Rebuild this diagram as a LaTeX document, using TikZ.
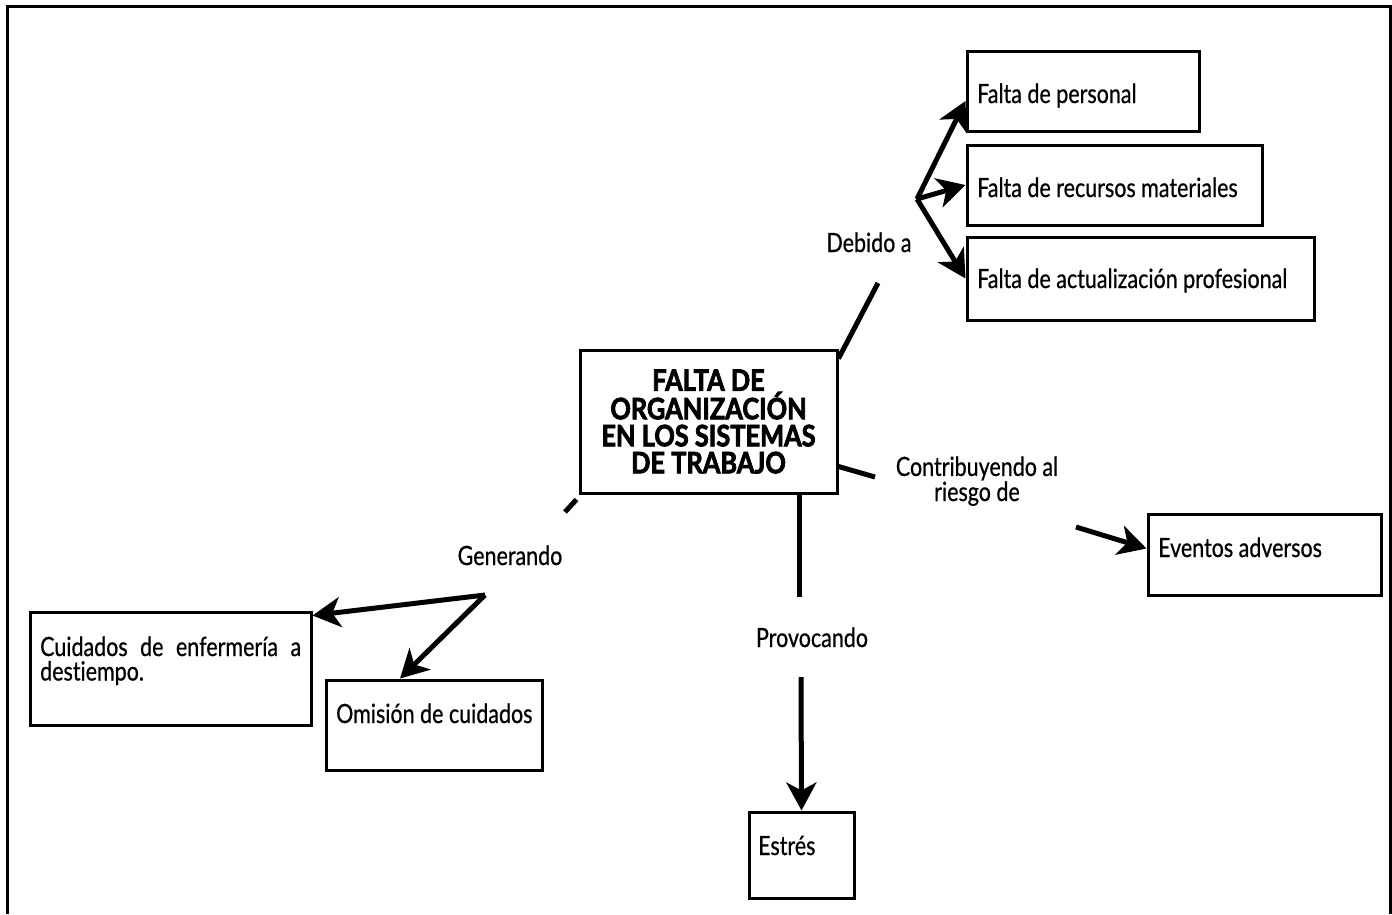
\documentclass[tikz,border=0pt]{standalone}
\usepackage{fontspec}
\setmainfont{Lato}[FakeStretch=0.81, FakeBold=0.6, Ligatures=NoCommon]
\newfontfamily\headfont{Lato}[FakeStretch=0.86, Ligatures=NoCommon,
  BoldFeatures={FakeBold=2.6}]
\usetikzlibrary{arrows.meta}
\begin{document}
\begin{tikzpicture}[x=1pt,y=-1pt,
  frame/.style={line width=3pt},
  box/.style={draw, line width=3pt, inner sep=0pt, rectangle},
  txt/.style={inner sep=0pt, anchor=base west, font=\fontsize{26.5}{23}\selectfont},
  lbl/.style={inner sep=0pt, anchor=base, align=center, font=\fontsize{26.5}{18}\selectfont},
  link/.style={line width=5pt},
  arr/.style={line width=5pt, -{Stealth[length=28pt,width=30pt,inset=8pt]}},
]
\useasboundingbox (0,0) rectangle (1392,914);

% outer frame, open at the bottom
\draw[frame] (7,914) -- (7,6) -- (1390,6) -- (1390,914);

% central concept
\node[box, minimum width=257pt, minimum height=143pt, align=center,
      font=\headfont\bfseries\fontsize{29.5}{27}\selectfont] (main) at (708.5,421.5)
  {FALTA DE\\ORGANIZACIÓN\\EN LOS SISTEMAS\\DE TRABAJO};

% boxes
\node[box, minimum width=232pt, minimum height=80pt]  (per) at (1083,91) {};
\node[box, minimum width=295pt, minimum height=80pt]  (rec) at (1114.5,185) {};
\node[box, minimum width=347pt, minimum height=83pt]  (act) at (1140.5,278.5) {};
\node[box, minimum width=233pt, minimum height=81pt]  (ev)  at (1264.5,554.5) {};
\node[box, minimum width=281pt, minimum height=113pt] (cui) at (170.5,668.5) {};
\node[box, minimum width=216pt, minimum height=90pt]  (omi) at (434,725) {};
\node[box, minimum width=105pt, minimum height=86pt]  (est) at (801.5,855) {};

% box texts
\node[txt] (perT) at (977,103) {Falta de personal};
\node[txt] (recT) at (977,197) {Falta de recursos materiales};
\node[txt] (actT) at (977,288) {Falta de actualización profesional};
\node[txt] (evT)  at (1158,557) {Eventos adversos};
\node[txt] (omiT) at (336,723) {Omisión de cuidados};
\node[txt] (estT) at (758,855) {Estrés};
\node[txt, text width=261pt, align=justify, font=\fontsize{26.5}{24.5}\selectfont]
  (cuiT) at (40,656) {Cuidados de enfermería a destiempo.};

% link labels
\node[lbl] (debido) at (869,252) {Debido a};
\node[lbl] (contrib) at (977,501) {Contribuyendo al\\riesgo de};
\node[lbl] (provoc) at (812,647) {Provocando};
\node[lbl] (gener) at (510,565) {Generando};

% free ends of the links
\coordinate (d1) at (878,283);
\coordinate (dj) at (917,199);
\coordinate (c1) at (875,477);
\coordinate (c2) at (1076,527);
\coordinate (p1) at (799,597);
\coordinate (p2) at (801,677);
\coordinate (g1) at (565,512);
\coordinate (gj) at (485,595);

% Debido a
\draw[link] ([yshift=-10pt]main.north east) -- (d1);
\draw[arr] (dj) -- ([yshift=-10pt]per.west);
\draw[arr] (dj) -- (rec.west);
\draw[arr] (dj) -- (act.west);

% Contribuyendo al riesgo de
\draw[link] ([yshift=28pt]main.south east) -- (c1);
\draw[arr] (c2) -- ([yshift=6pt]ev.west);

% Provocando
\draw[link] ([xshift=90.5pt]main.south) -- (p1);
\draw[arr] (p2) -- (est.north);

% Generando
\draw[link] ([shift={(-2pt,-5pt)}]main.south west) -- (g1);
\draw[arr] (gj) -- ([yshift=-5pt]cui.north east);
\draw[arr] (gj) -- ([xshift=-34pt]omi.north);
\end{tikzpicture}
\end{document}
